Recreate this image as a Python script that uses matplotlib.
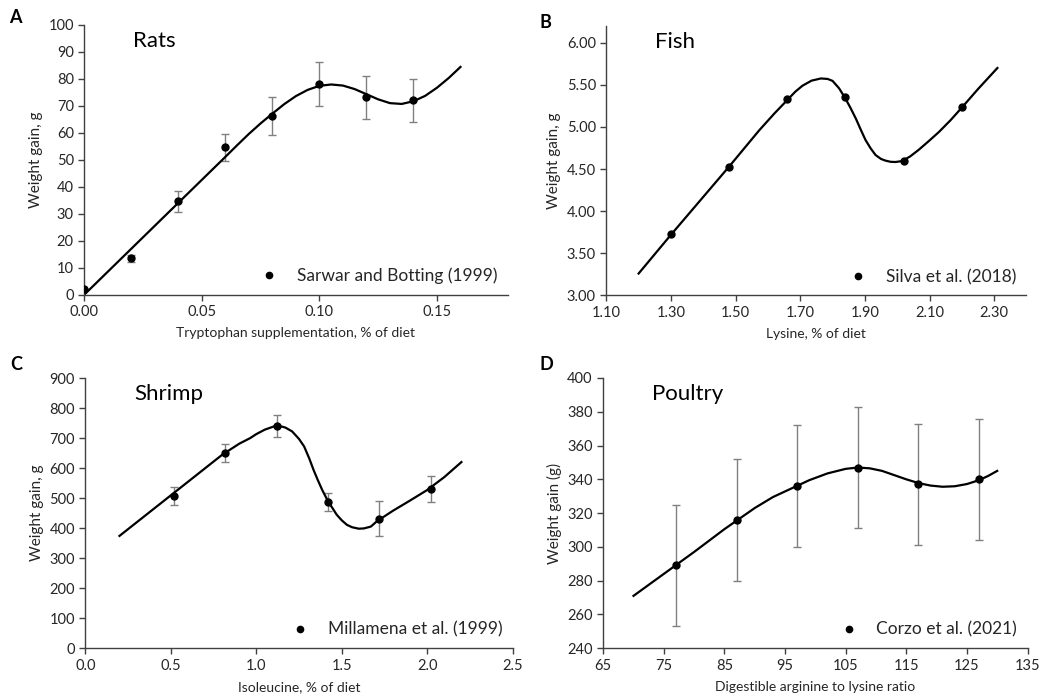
import matplotlib
matplotlib.use("Agg")
import matplotlib.pyplot as plt
from matplotlib.ticker import FormatStrFormatter

plt.rcParams['font.family'] = ['Lato', 'DejaVu Sans']

# Panel A - rats, tryptophan
rat_x = [0.00, 0.02, 0.04, 0.06, 0.08, 0.10, 0.12, 0.14]
rat_y = [2.2, 13.4, 34.5, 54.5, 66.0, 78.0, 73.0, 72.0]
rat_err = [0.0, 1.3, 3.8, 5.0, 7.0, 8.0, 8.0, 8.0]
rat_fit_x = [0.00, 0.02, 0.04, 0.06, 0.065, 0.07, 0.075, 0.08, 0.085, 0.09,
             0.095, 0.10, 0.105, 0.11, 0.115, 0.12, 0.125, 0.13, 0.135,
             0.14, 0.145, 0.15, 0.155, 0.16]
rat_fit_y = [0.0, 17.0, 34.0, 51.0, 55.3, 59.5, 63.4, 67.0, 70.5, 73.5,
             75.8, 77.3, 77.8, 77.4, 76.1, 74.2, 72.3, 70.9, 70.6,
             71.6, 73.6, 76.6, 80.2, 84.3]

# Panel B - fish, lysine
fish_x = [1.30, 1.48, 1.66, 1.84, 2.02, 2.20]
fish_y = [3.73, 4.52, 5.33, 5.35, 4.59, 5.24]
fish_fit_x = [1.20, 1.30, 1.40, 1.48, 1.573, 1.62, 1.66, 1.685, 1.707, 1.735,
              1.764, 1.785, 1.80, 1.82, 1.838, 1.855, 1.872, 1.887, 1.902,
              1.918, 1.933, 1.95, 1.964, 1.98, 1.995, 2.015, 2.04, 2.067,
              2.10, 2.129, 2.165, 2.20, 2.25, 2.31]
fish_fit_y = [3.26, 3.72, 4.17, 4.53, 4.96, 5.16, 5.32, 5.42, 5.49, 5.55,
              5.576, 5.57, 5.547, 5.46, 5.35, 5.23, 5.10, 4.97, 4.845,
              4.745, 4.667, 4.62, 4.60, 4.586, 4.584, 4.595, 4.65, 4.73,
              4.84, 4.94, 5.08, 5.23, 5.45, 5.70]

# Panel C - shrimp, isoleucine
shrimp_x = [0.52, 0.82, 1.12, 1.42, 1.72, 2.02]
shrimp_y = [508, 650, 740, 488, 432, 531]
shrimp_err = [30, 31, 36, 30, 58, 43]
shrimp_fit_x = [0.20, 0.50, 0.80, 0.90, 0.965, 1.00, 1.05, 1.10, 1.13, 1.17,
                1.21, 1.25, 1.28, 1.31, 1.335, 1.36, 1.385, 1.42, 1.45,
                1.47, 1.50, 1.53, 1.56, 1.60, 1.63, 1.67, 1.70, 1.725,
                1.80, 1.90, 2.00, 2.10, 2.20]
shrimp_fit_y = [374, 509, 644, 681, 700, 713, 728, 738, 741, 735,
                722, 697, 672, 632, 594, 560, 528, 489, 463,
                445, 426, 411, 403, 398, 399, 405, 420, 430,
                458, 492, 527, 570, 620]

# Panel D - poultry, arginine:lysine
bird_x = [77, 87, 97, 107, 117, 127]
bird_y = [289, 316, 336, 347, 337, 340]
bird_err = [36, 36, 36, 36, 36, 36]
bird_fit_x = [70, 75, 80, 85, 90, 93, 96, 99, 102, 105, 107, 109, 111, 113,
              115, 117, 119, 121, 123, 125, 127, 128.5, 130]
bird_fit_y = [271, 284, 297, 310.5, 323, 329.5, 334.5, 339.5, 343.5, 346.2,
              347, 346.5, 345, 342.5, 340, 337.8, 336.3, 335.6, 335.9,
              337.2, 339.5, 342, 345]

fig = plt.figure(figsize=(10.4, 7), dpi=100)


def panel(rect, letter, letter_pos, title, xs, ys, err, fx, fy, label,
          xlim, xticks, xfmt, ylim, yticks, yfmt, xlabel, ylabel):
    ax = fig.add_axes(rect)
    ax.plot(fx, fy, color='black', lw=1.6, zorder=2)
    if err is not None:
        ax.errorbar(xs, ys, yerr=err, fmt='none', ecolor='#808080',
                    elinewidth=1.0, capsize=3, capthick=1.0, zorder=1)
    ax.plot(xs, ys, 'o', color='black', ms=5, ls='none', label=label, zorder=3)
    ax.set_xlim(*xlim)
    ax.set_ylim(*ylim)
    ax.set_xticks(xticks)
    ax.set_yticks(yticks)
    ax.xaxis.set_major_formatter(FormatStrFormatter(xfmt))
    ax.yaxis.set_major_formatter(FormatStrFormatter(yfmt))
    for s in ['top', 'right']:
        ax.spines[s].set_visible(False)
    for s in ['left', 'bottom']:
        ax.spines[s].set_color('#404040')
        ax.spines[s].set_linewidth(1.0)
    ax.tick_params(direction='out', length=4, width=1.0, color='#404040',
                   labelsize=10.5, labelcolor='#262626')
    ax.set_xlabel(xlabel, fontsize=10, color='#262626', labelpad=6)
    ax.set_ylabel(ylabel, fontsize=11, color='#262626', labelpad=4)
    ax.text(0.115, 0.94, title, transform=ax.transAxes, fontsize=16,
            va='center', ha='left', color='black')
    ax.legend(loc='lower right', frameon=False, fontsize=12.5,
              handletextpad=0.6, borderaxespad=0.2, markerscale=0.9,
              labelcolor='#262626')
    fig.text(letter_pos[0], letter_pos[1], letter, fontsize=13,
             fontweight='bold', ha='left', va='center')
    return ax


panel([0.081, 0.579, 0.407, 0.386], 'A', (0.009, 0.975), 'Rats',
      rat_x, rat_y, rat_err, rat_fit_x, rat_fit_y, 'Sarwar and Botting (1999)',
      (0, 0.18), [0, 0.05, 0.10, 0.15], '%.2f',
      (0, 100), range(0, 101, 10), '%d',
      'Tryptophan supplementation, % of diet', 'Weight gain, g')

panel([0.583, 0.578, 0.404, 0.385], 'B', (0.519, 0.968), 'Fish',
      fish_x, fish_y, None, fish_fit_x, fish_fit_y, 'Silva et al. (2018)',
      (1.1, 2.4), [1.1, 1.3, 1.5, 1.7, 1.9, 2.1, 2.3], '%.2f',
      (3.0, 6.2), [3.0, 3.5, 4.0, 4.5, 5.0, 5.5, 6.0], '%.2f',
      'Lysine, % of diet', 'Weight gain, g')

panel([0.082, 0.074, 0.411, 0.386], 'C', (0.010, 0.479), 'Shrimp',
      shrimp_x, shrimp_y, shrimp_err, shrimp_fit_x, shrimp_fit_y,
      'Millamena et al. (1999)',
      (0, 2.5), [0, 0.5, 1.0, 1.5, 2.0, 2.5], '%.1f',
      (0, 900), range(0, 901, 100), '%d',
      'Isoleucine, % of diet', 'Weight gain, g')

panel([0.58, 0.074, 0.408, 0.386], 'D', (0.519, 0.479), 'Poultry',
      bird_x, bird_y, bird_err, bird_fit_x, bird_fit_y, 'Corzo et al. (2021)',
      (65, 135), range(65, 136, 10), '%d',
      (240, 400), range(240, 401, 20), '%d',
      'Digestible arginine to lysine ratio', 'Weight gain (g)')

fig.savefig('out.png', dpi=100)
